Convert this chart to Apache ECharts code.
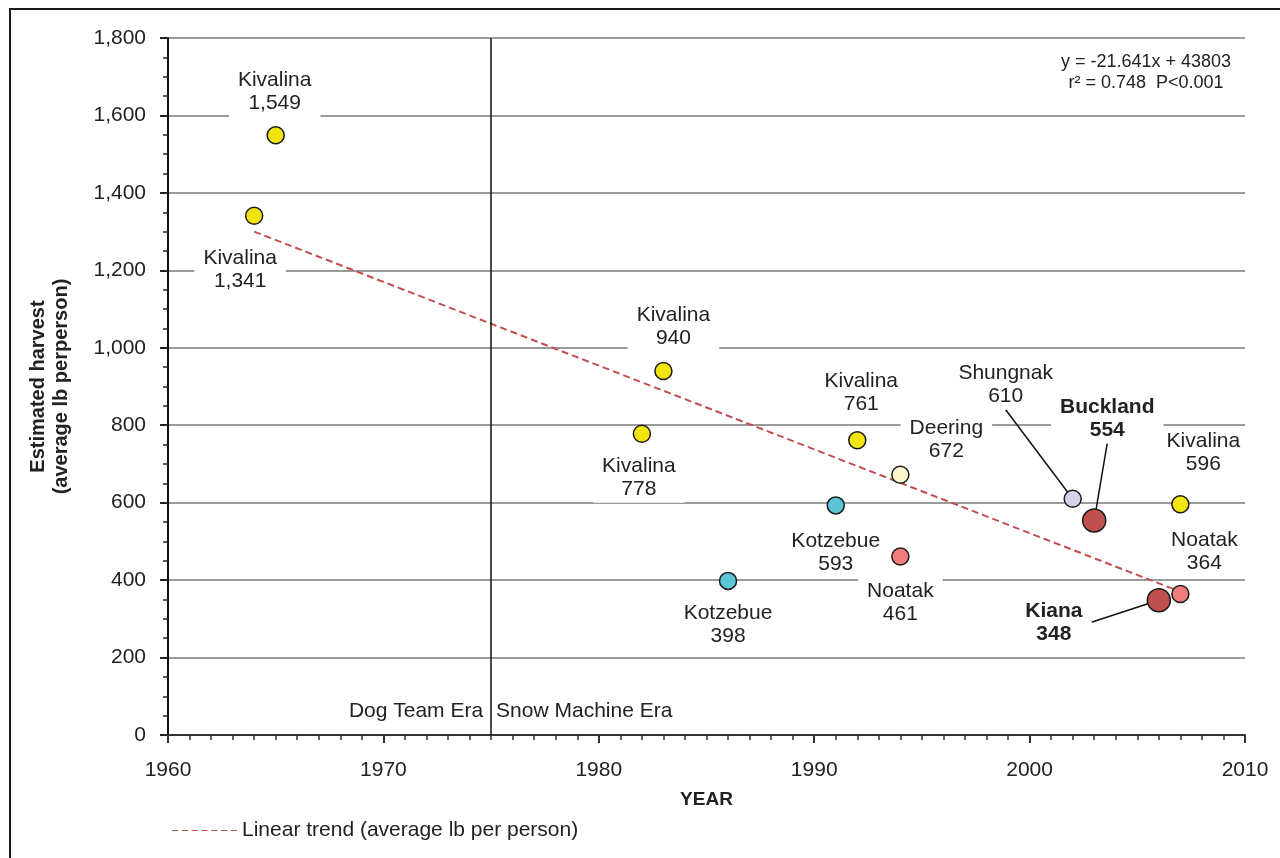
<!DOCTYPE html>
<html>
<head>
<meta charset="utf-8">
<script src="https://cdn.jsdelivr.net/npm/echarts@6/dist/echarts.min.js"></script>
<style>
html,body{margin:0;padding:0;background:#fff;}
#chart{width:1280px;height:858px;}
</style>
</head>
<body>
<div id="chart"></div>
<script>
// ---- data ----
var years       = [1964, 1965, 1982, 1983, 1986, 1991, 1992, 1994, 1994, 2002, 2003, 2006, 2007, 2007];
var harvest     = [1341, 1549, 778, 940, 398, 593, 761, 672, 461, 610, 554, 348, 596, 364];
var communities = ['Kivalina','Kivalina','Kivalina','Kivalina','Kotzebue','Kotzebue','Kivalina','Deering','Noatak','Shungnak','Buckland','Kiana','Kivalina','Noatak'];
var highlighted = ['Buckland','Kiana'];
var trendYears  = [1964, 2007];
var trendValues = [1300, 370];
var eraYear     = 1975;
var eraLabels   = ['Dog Team Era', 'Snow Machine Era'];
var equationText = ['y = -21.641x + 43803', 'r\u00B2 = 0.748  P<0.001'];
var trendName   = 'Linear trend (average lb per person)';

// ---- styling / layout ----
var FONT = 'Liberation Sans, Arial, Helvetica, sans-serif';
var colorMap = {
  Kivalina: '#F2E50F', Kotzebue: '#5CC6D9', Noatak: '#F07D7D', Deering: '#FBF6CE',
  Shungnak: '#D4D3EA', Buckland: '#C0504D', Kiana: '#C0504D'
};
var labelOffsets = [
  [-14, 54], [-1, -43], [-3, 44], [10, -44], [0, 44], [0, 47], [4, -48],
  [46, -35], [0, 46], [-67, -114], [13, -102], [-105, 22], [23, -52], [24, -42]
];
var leaderLines = [9, 10, 11];

function fmt(v){ return v.toLocaleString('en-US'); }

var pts = years.map(function(y, i){
  var big = highlighted.indexOf(communities[i]) >= 0;
  return {
    value: [y, harvest[i]],
    name: communities[i],
    symbolSize: big ? 23 : 17,
    itemStyle: { color: colorMap[communities[i]] },
    label: { fontWeight: big ? 'bold' : 'normal' },
    labelLine: { show: leaderLines.indexOf(i) >= 0 }
  };
});

// dashed legend icon (7 dashes)
var dashIcon = 'path://M0,0h6v1h-6z M9.5,0h6v1h-6z M19,0h6v1h-6z M28.5,0h6v1h-6z M38,0h6v1h-6z M47.5,0h6v1h-6z M57,0h6v1h-6z';

var chart = echarts.init(document.getElementById('chart'), null, {renderer: 'canvas'});
chart.setOption({
  animation: false,
  backgroundColor: '#fff',
  textStyle: { fontFamily: FONT },
  grid: { left: 168, right: 35, top: 38, bottom: 123 },
  xAxis: {
    type: 'value', min: 1960, max: 2010, interval: 10,
    name: 'YEAR', nameLocation: 'middle', nameGap: 55,
    nameTextStyle: { fontFamily: FONT, fontSize: 19, fontWeight: 'bold', color: '#222' },
    axisLine: { show: true, lineStyle: { color: '#333', width: 2 } },
    axisTick: { show: true, length: 8, lineStyle: { color: '#333', width: 2 } },
    minorTick: { show: true, splitNumber: 10, length: 5, lineStyle: { color: '#333', width: 1.5 } },
    axisLabel: { fontFamily: FONT, fontSize: 21, color: '#222', margin: 25,
      formatter: function(v){ return String(v); } },
    splitLine: { show: false }
  },
  yAxis: {
    type: 'value', min: 0, max: 1800, interval: 200,
    name: 'Estimated harvest\n(average lb perperson)', nameLocation: 'middle', nameGap: 95, nameRotate: 90,
    nameTextStyle: { fontFamily: FONT, fontSize: 20, fontWeight: 'bold', color: '#222', lineHeight: 23 },
    axisLine: { show: true, lineStyle: { color: '#111', width: 2 } },
    axisTick: { show: true, length: 8, lineStyle: { color: '#222', width: 2 } },
    minorTick: { show: true, splitNumber: 4, length: 5, lineStyle: { color: '#222', width: 1.5 } },
    axisLabel: { fontFamily: FONT, fontSize: 21, color: '#222', margin: 22,
      formatter: function(v){ return fmt(v); } },
    splitLine: { show: true, lineStyle: { color: '#9a9a9a', width: 2 } }
  },
  legend: {
    left: 167, top: 815, itemWidth: 65, itemHeight: 2, itemGap: 10,
    data: [{ name: trendName, icon: dashIcon, itemStyle: { color: '#C0504D' } }],
    textStyle: { fontFamily: FONT, fontSize: 21, color: '#222' }
  },
  graphic: [
    { type: 'rect', shape: { x: 10, y: 9, width: 1300, height: 900 },
      style: { fill: 'none', stroke: '#1a1a1a', lineWidth: 2 }, silent: true },
    { type: 'text', left: 1057, top: 52,
      style: { text: equationText[0] + '\n' + equationText[1], fill: '#222', font: '18px ' + FONT,
               textAlign: 'center', lineHeight: 21, width: 178, align: 'center' } }
  ],
  series: [
    {
      name: trendName, type: 'line', symbol: 'none', z: 3,
      data: trendYears.map(function(y, i){ return [y, trendValues[i]]; }),
      lineStyle: { color: '#C0504D', width: 2, type: [7, 4] },
      itemStyle: { color: '#C0504D' },
      markLine: {
        silent: true, symbol: 'none', animation: false,
        lineStyle: { color: '#111', width: 1.5, type: 'solid' },
        label: { show: false },
        data: [{ xAxis: eraYear }]
      }
    },
    {
      name: 'era', type: 'scatter', symbolSize: 0, silent: true, z: 4,
      itemStyle: { opacity: 1 },
      data: [
        { value: [eraYear, 62], label: { position: 'left', formatter: eraLabels[0], distance: 8 } },
        { value: [eraYear, 62], label: { position: 'right', formatter: eraLabels[1], distance: 5 } }
      ],
      label: { show: true, fontFamily: FONT, fontSize: 21, color: '#222', opacity: 1 }
    },
    {
      name: 'points', type: 'scatter', z: 5,
      data: pts,
      itemStyle: { borderColor: '#1a1a1a', borderWidth: 1.5, opacity: 1 },
      label: {
        show: true, position: 'inside', fontFamily: FONT, fontSize: 21, color: '#222',
        lineHeight: 23, align: 'center', backgroundColor: '#fff', padding: [2, 9],
        formatter: function(p){ return p.name + '\n' + fmt(p.value[1]); }
      },
      labelLine: { lineStyle: { color: '#111', width: 1.5 } },
      labelLayout: function(params){
        var o = labelOffsets[params.dataIndex];
        return { dx: o[0], dy: o[1], hideOverlap: false };
      }
    }
  ]
});
</script>
</body>
</html>
